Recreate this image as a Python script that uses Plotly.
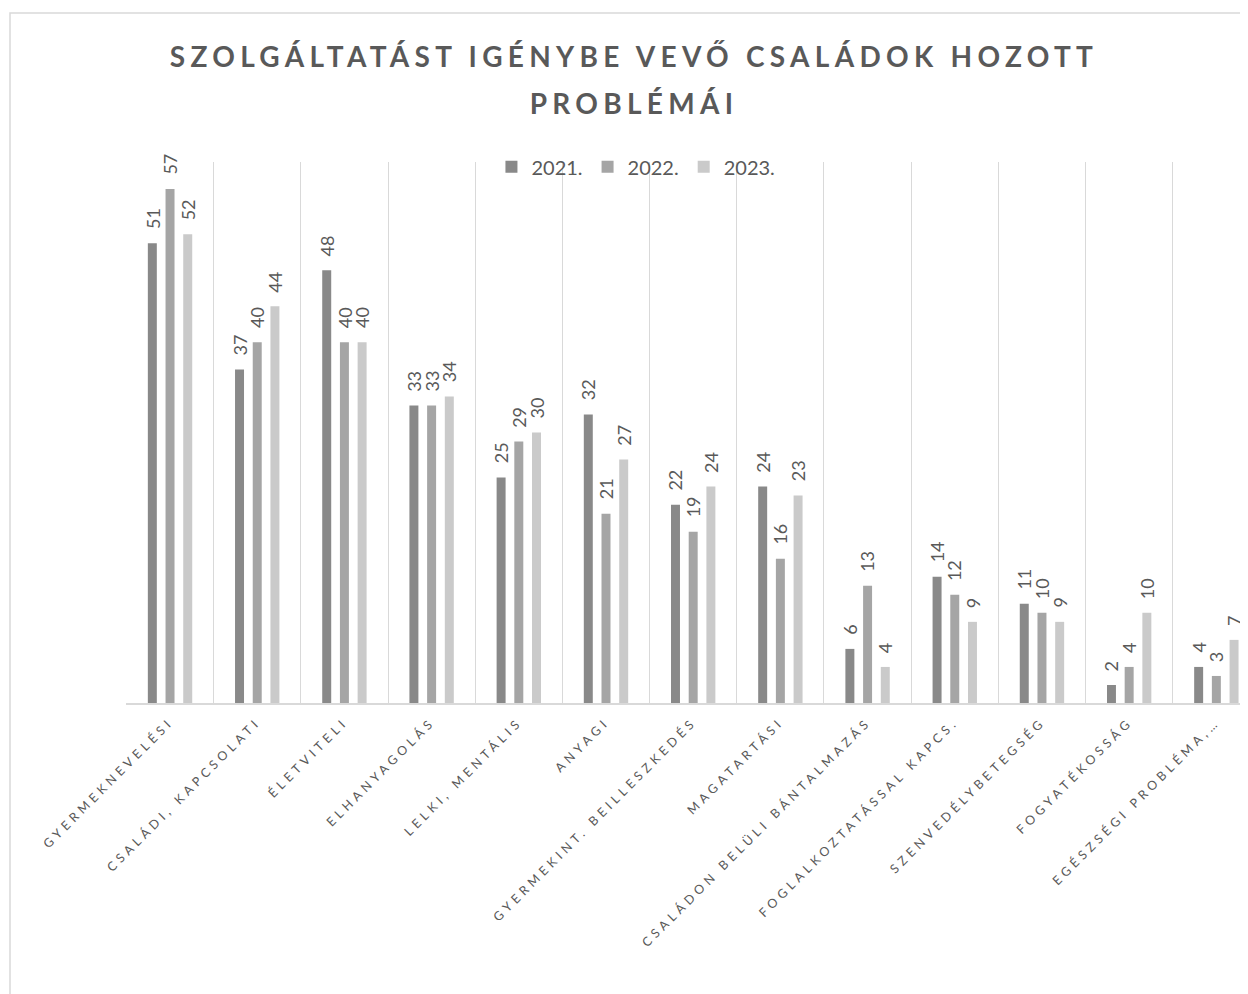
import plotly.graph_objects as go

# ---------------- data ----------------
categories = [
    "GYERMEKNEVELÉSI",
    "CSALÁDI, KAPCSOLATI",
    "ÉLETVITELI",
    "ELHANYAGOLÁS",
    "LELKI, MENTÁLIS",
    "ANYAGI",
    "GYERMEKINT. BEILLESZKEDÉS",
    "MAGATARTÁSI",
    "CSALÁDON BELÜLI BÁNTALMAZÁS",
    "FOGLALKOZTATÁSSAL KAPCS.",
    "SZENVEDÉLYBETEGSÉG",
    "FOGYATÉKOSSÁG",
    "EGÉSZSÉGI PROBLÉMA,…",
]
series_names = ["2021.", "2022.", "2023."]
values_2021 = [51, 37, 48, 33, 25, 32, 22, 24, 6, 14, 11, 2, 4]
values_2022 = [57, 40, 40, 33, 29, 21, 19, 16, 13, 12, 10, 4, 3]
values_2023 = [52, 44, 40, 34, 30, 27, 24, 23, 4, 9, 9, 10, 7]
title_lines = ["SZOLGÁLTATÁST IGÉNYBE VEVŐ CSALÁDOK HOZOTT", "PROBLÉMÁI"]

# ---------------- style ----------------
colors = ["#898989", "#a5a5a5", "#cacaca"]
TEXT = "#595959"
GRID = "#d9d9d9"
FONT = "Lato"
BAR_W = 0.103
PITCH = 0.203

# page has an 8px body margin -> figure is 8px smaller and everything offset
W, H = 1240, 986
M_L, M_T, M_B = 118, 154, 291
PLOT_W = W - M_L
PLOT_H = H - M_T - M_B

fig = go.Figure()
all_series = [values_2021, values_2022, values_2023]
for j, (name, vals, col) in enumerate(zip(series_names, all_series, colors)):
    center = (j - 1) * PITCH
    fig.add_trace(go.Bar(
        x=categories, y=vals, name=name,
        marker=dict(color=col, line=dict(width=0)),
        width=BAR_W, offset=center - BAR_W / 2,
        hoverinfo="x+y+name",
    ))
    for i, v in enumerate(vals):
        fig.add_annotation(
            x=i + center, y=v, xref="x", yref="y",
            text=str(v), textangle=-90, showarrow=False,
            xanchor="center", yanchor="bottom", yshift=12,
            font=dict(family=FONT, size=18, color=TEXT),
        )

ticktext = [f'<span style="letter-spacing:4.2px">{c}</span>' for c in categories]

title_html = "<br>".join(
    f'<span style="font-size:28px;letter-spacing:5.3px">{t}</span>' for t in title_lines
)

fig.update_layout(
    width=W, height=H,
    margin=dict(l=M_L, r=0, t=M_T, b=M_B, pad=0),
    paper_bgcolor="white", plot_bgcolor="white",
    font=dict(family=FONT, color=TEXT),
    barmode="group",
    title=dict(
        text=title_html, x=626 / W, xref="container", xanchor="center",
        y=0.94, yref="container", yanchor="top",
        font=dict(family=FONT, size=36, color=TEXT, weight="bold"),
    ),
    legend=dict(
        orientation="h", x=0.4545, xanchor="center", y=0.991, yanchor="middle",
        bgcolor="rgba(0,0,0,0)", font=dict(family=FONT, size=20, color=TEXT),
        itemwidth=30, traceorder="normal",
    ),
    xaxis=dict(
        type="category", range=[-0.505, 12.363],
        tickmode="array", tickvals=categories, ticktext=ticktext,
        tickson="boundaries", ticks="",
        showgrid=True, gridcolor=GRID, gridwidth=1,
        showline=True, linecolor=GRID, linewidth=1.5,
        tickangle=-45, tickfont=dict(family=FONT, size=12.5, color=TEXT),
        ticklabelshift=0, ticklabelstandoff=5,
        zeroline=False,
    ),
    yaxis=dict(
        range=[0, 60], showgrid=False, showticklabels=False,
        zeroline=False, showline=False, ticks="",
    ),
    shapes=[dict(
        type="rect", xref="paper", yref="paper",
        x0=(2 - M_L) / PLOT_W, x1=1.05,
        y0=(PLOT_H - (1010 - M_T)) / PLOT_H, y1=(PLOT_H - (5 - M_T)) / PLOT_H,
        line=dict(color=GRID, width=1.5), fillcolor="rgba(0,0,0,0)",
        layer="below",
    )],
)

fig.write_html("out.html")
